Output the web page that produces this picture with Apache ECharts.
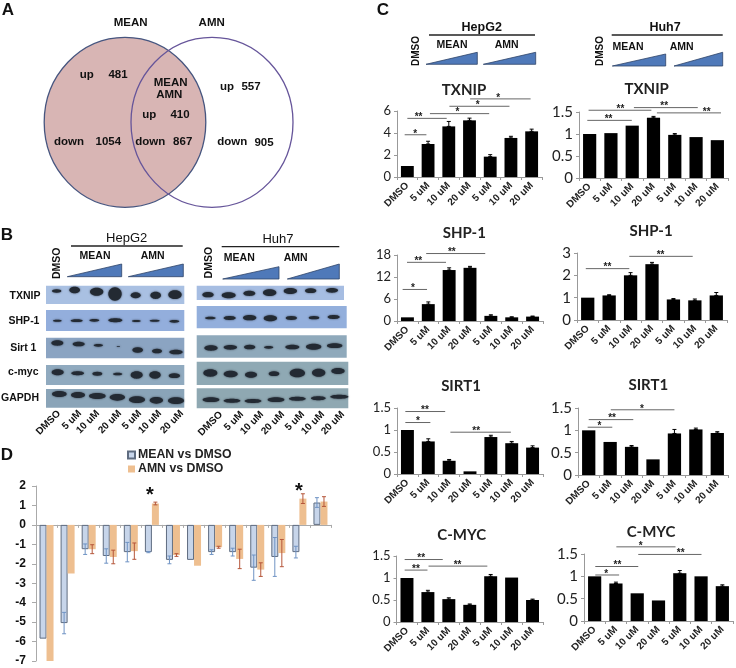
<!DOCTYPE html>
<html><head><meta charset="utf-8">
<style>html,body{margin:0;padding:0;background:#fff}#c{width:736px;height:668px}</style>
<script src="https://cdn.jsdelivr.net/npm/echarts@6/dist/echarts.min.js"></script>
</head><body><div id="c"></div>
<script>
// ---------- data ----------
const doseLabels = ['DMSO','5 uM','10 uM','20 uM','5 uM','10 uM','20 uM'];
const txnipHepG2 = [1,3.0,4.6,5.15,1.85,3.55,4.15];
const txnipHepG2Err = [0,.25,.45,.2,.18,.15,.2];
const txnipHuh7 = [1,1.02,1.19,1.37,.98,.93,.86];
const txnipHuh7Err = [0,.01,.01,.03,.03,.01,.01];
const shpHepG2 = [1,4.6,13.9,14.5,1.4,1.0,1.2];
const shpHepG2Err = [0,.6,.6,.4,.3,.15,.15];
const shpHuh7 = [1,1.1,2.0,2.5,.92,.88,1.1];
const shpHuh7Err = [0,.03,.12,.08,.04,.06,.13];
const sirtHepG2 = [1,.74,.3,.06,.84,.7,.6];
const sirtHepG2Err = [0,.06,.03,.01,.04,.04,.04];
const sirtHuh7 = [1,.74,.63,.35,.93,1.02,.94];
const sirtHuh7Err = [0,.01,.03,.01,.09,.03,.03];
const mycHepG2 = [1,.68,.52,.39,1.04,1.01,.5];
const mycHepG2Err = [0,.04,.03,.02,.04,.01,.02];
const mycHuh7 = [1,.84,.62,.46,1.07,1.0,.78];
const mycHuh7Err = [0,.03,.01,.01,.06,.01,.03];
// significance brackets: [from, to, level, labelAt, text]
const txnipHepG2Sig = [[-.13,.92,3.84,.38,'*'],[0,1.9,5.33,.54,'**'],[1.09,3.95,5.76,2.42,'*'],[2.03,4.93,6.43,3.4,'*'],[3.03,5.95,7.1,4.38,'*']];
const txnipHuh7Sig = [[-.11,1.98,1.31,.89,'**'],[-.05,2.9,1.54,1.45,'**'],[2.08,5.08,1.6,3.5,'**'],[3.16,6.17,1.48,5.5,'**']];
const shpHepG2Sig = [[-.23,.94,8.6,.27,'*'],[-.02,1.85,16,.52,'**'],[.9,3.73,18.4,2.13,'**']];
const shpHuh7Sig = [[-.09,1.94,2.3,.92,'**'],[1.94,4.9,2.85,3.4,'**']];
const sirtHepG2Sig = [[-.1,1.81,1.42,.84,'**'],[-.1,1.1,1.17,.5,'*'],[2.06,4.96,.95,3.3,'**']];
const sirtHuh7Sig = [[-.05,1.1,1.07,.5,'*'],[0,2.08,1.24,1.09,'**'],[1.03,4,1.46,2.48,'*']];
const mycHepG2Sig = [[-.11,1.71,1.42,.68,'**'],[-.11,.98,1.18,.43,'**'],[1.03,3.84,1.27,2.42,'**']];
const mycHuh7Sig = [[.03,1.15,1.03,.54,'*'],[.03,2.05,1.22,1.07,'**'],[1.02,3.8,1.66,2.16,'*'],[2.05,5.02,1.49,4.04,'**']];

const geneNames = ['MYC','NFKBIA','MAX','RELA','GSK3B','HIF1A','UBC','AXIN1','SP1','CCND1','CREB1','SKP2','FBXW7','TP53'];
const meanVsDmso = [-5.85,-5.05,-1.25,-1.6,-1.4,-1.4,-1.8,-1.8,-1.4,-1.4,-2.2,-1.65,-1.4,1.15];
const meanVsDmsoErr = [0,.55,.27,.37,.5,.03,.2,0,.12,.2,.65,1.0,.3,.25];
const amnVsDmso = [-7,-2.5,-1.25,-1.65,-1.35,1.1,-1.55,-2.1,-1.15,-1.75,-2.3,-1.45,1.35,1.2];
const amnVsDmsoErr = [0,0,.23,.35,.42,.07,.07,0,.05,.5,.35,.7,.25,.25];

const vennCounts = {meanUp:'481',meanDown:'1054',bothUp:'410',bothDown:'867',amnUp:'557',amnDown:'905'};

// ---------- layout tables ----------
const panels = [
 {t:'TXNIP',tx:459,ty:85,v:txnipHepG2,e:txnipHepG2Err,s:txnipHepG2Sig,l:397,r:542,top:111,b:177,max:6,iv:2,fs:13},
 {t:'TXNIP',tx:641.7,ty:84,v:txnipHuh7,e:txnipHuh7Err,s:txnipHuh7Sig,l:579,r:728,top:112,b:178,max:1.5,iv:.5,fs:15},
 {t:'SHP-1',tx:459.3,ty:228.3,v:shpHepG2,e:shpHepG2Err,s:shpHepG2Sig,l:397,r:543,top:255,b:321,max:18,iv:6,fs:13},
 {t:'SHP-1',tx:646,ty:226,v:shpHuh7,e:shpHuh7Err,s:shpHuh7Sig,l:577,r:727,top:253,b:320,max:3,iv:1,fs:15},
 {t:'SIRT1',tx:456,ty:381,v:sirtHepG2,e:sirtHepG2Err,s:sirtHepG2Sig,l:397,r:543,top:408,b:474,max:1.5,iv:.5,fs:13},
 {t:'SIRT1',tx:643.3,ty:380.3,v:sirtHuh7,e:sirtHuh7Err,s:sirtHuh7Sig,l:578,r:728,top:408,b:475,max:1.5,iv:.5,fs:15},
 {t:'C-MYC',tx:456.7,ty:530,v:mycHepG2,e:mycHepG2Err,s:mycHepG2Sig,l:396.5,r:543,top:556,b:622,max:1.5,iv:.5,fs:13},
 {t:'C-MYC',tx:646,ty:526.7,v:mycHuh7,e:mycHuh7Err,s:mycHuh7Sig,l:584,r:733,top:554,b:621,max:1.5,iv:.5,fs:15}
];
const sans='"Liberation Sans",Arial,sans-serif';
const grid=[],xAxis=[],yAxis=[],series=[],title=[],graphic=[];

function errSeries(i,lo,hi,color,off){
  return {type:'custom',xAxisIndex:i,yAxisIndex:i,silent:true,z:4,
    data:lo.map((d,k)=>[k,lo[k],hi[k]]),encode:{x:0,y:[1,2]},
    renderItem(p,api){
      const k=api.value(0),a=api.coord([k,api.value(1)]),b=api.coord([k,api.value(2)]);
      if(Math.abs(a[1]-b[1])<.5)return;
      const band=api.size([1,0])[0],x=a[0]+off*band,c=2,st={stroke:color,lineWidth:1};
      return {type:'group',children:[
        {type:'line',shape:{x1:x,y1:a[1],x2:x,y2:b[1]},style:st},
        {type:'line',shape:{x1:x-c,y1:a[1],x2:x+c,y2:a[1]},style:st},
        {type:'line',shape:{x1:x-c,y1:b[1],x2:x+c,y2:b[1]},style:st}]};
    }};
}
function sigSeries(i,sig){
  return {type:'custom',xAxisIndex:i,yAxisIndex:i,silent:true,z:5,clip:false,
    data:sig.map(b=>[0,b[2]]),encode:{x:0,y:1},
    renderItem(p,api){
      const b=sig[p.dataIndex],o=api.coord([0,b[2]]),band=api.size([1,0])[0];
      return {type:'group',children:[
        {type:'line',shape:{x1:o[0]+b[0]*band,y1:o[1],x2:o[0]+b[1]*band,y2:o[1]},style:{stroke:'#666',lineWidth:1}},
        {type:'text',x:o[0]+b[3]*band,y:o[1]-1,style:{text:b[4],font:'bold 10px '+sans,fill:'#222',align:'center',verticalAlign:'middle',textAlign:'center',textVerticalAlign:'middle'}}]};
    }};
}
panels.forEach((p,i)=>{
  grid.push({left:p.l,width:p.r-p.l,top:p.top,height:p.b-p.top,outerBoundsMode:'none'});
  xAxis.push({gridIndex:i,type:'category',data:doseLabels,
    axisLine:{lineStyle:{color:'#999',width:1}},axisTick:{show:true,length:3,lineStyle:{color:'#999'}},
    axisLabel:{interval:0,rotate:45,margin:7,fontFamily:sans,fontWeight:'bold',fontSize:10,color:'#222'}});
  yAxis.push({gridIndex:i,type:'value',min:0,max:p.max,interval:p.iv,splitLine:{show:false},
    axisLine:{show:true,lineStyle:{color:'#999',width:1}},axisTick:{show:true,length:3,lineStyle:{color:'#999'}},
    axisLabel:{margin:6,fontFamily:'Lato,sans-serif',fontSize:p.fs,color:'#222'}});
  series.push({type:'bar',xAxisIndex:i,yAxisIndex:i,data:p.v,barWidth:'62%',itemStyle:{color:'#000'},silent:true});
  series.push(errSeries(i,p.v,p.v.map((v,k)=>v+p.e[k]),'#000',0));
  series.push(sigSeries(i,p.s));
  title.push({text:p.t,left:p.tx,top:p.ty,textAlign:'center',textVerticalAlign:'middle',
    textStyle:{fontFamily:'Lato,sans-serif',fontWeight:'bold',fontSize:15,color:'#222'}});
});
// Panel D
const D=panels.length;
grid.push({left:36,width:295,top:486,height:175,outerBoundsMode:'none'});
xAxis.push({gridIndex:D,type:'category',data:geneNames,axisLine:{onZero:true,lineStyle:{color:'#aaa',width:1}},
  axisTick:{show:true,length:3,lineStyle:{color:'#aaa'}},
  axisLabel:{interval:0,rotate:90,margin:40,fontFamily:sans,fontSize:12,color:'#222'}});
yAxis.push({gridIndex:D,type:'value',min:-7,max:2,interval:1,splitLine:{show:false},
  axisLine:{show:true,lineStyle:{color:'#aaa',width:1}},axisTick:{show:true,length:4,lineStyle:{color:'#aaa'}},
  axisLabel:{margin:10,fontFamily:sans,fontWeight:'bold',fontSize:12,color:'#111'}});
series.push({type:'bar',name:'MEAN vs DMSO',xAxisIndex:D,yAxisIndex:D,data:meanVsDmso,barWidth:7,barGap:0,silent:true,
  itemStyle:{color:'#c7d5ea',borderColor:'#5f6c80',borderWidth:1}});
series.push({type:'bar',name:'AMN vs DMSO',xAxisIndex:D,yAxisIndex:D,data:amnVsDmso,barWidth:7,barGap:0,silent:true,
  itemStyle:{color:'#eebf90'}});
series.push(errSeries(D,meanVsDmso.map((v,k)=>v-meanVsDmsoErr[k]),meanVsDmso.map((v,k)=>v+meanVsDmsoErr[k]),'#6f93c4',-1/6));
series.push(errSeries(D,amnVsDmso.map((v,k)=>v-amnVsDmsoErr[k]),amnVsDmso.map((v,k)=>v+amnVsDmsoErr[k]),'#b5563a',1/6));

// ---------- decoration helpers ----------
function txt(s,x,y,size,weight,rot,align){
  graphic.push({type:'text',x:x,y:y,rotation:rot||0,z:20,silent:true,style:{text:s,font:(weight||'bold')+' '+size+'px '+sans,fill:'#111',
    align:align||'center',verticalAlign:'middle',textAlign:align||'center',textVerticalAlign:'middle'}});
}
function rule(x1,x2,y){graphic.push({type:'line',silent:true,z:20,shape:{x1:x1,y1:y,x2:x2,y2:y},style:{stroke:'#222',lineWidth:1.3}});}
function wedge(x1,x2,yb,yt){graphic.push({type:'polygon',silent:true,z:20,shape:{points:[[x1,yb],[x2,yb],[x2,yt]]},style:{fill:'#4f79b9',stroke:'#2f4468',lineWidth:.8}});}
function rect(x,y,w,h,c){graphic.push({type:'rect',silent:true,z:10,shape:{x:x,y:y,width:w,height:h},style:{fill:c}});}

// Panel letters
txt('A',8,10,17);txt('B',7,235,17);txt('C',383,10,17);txt('D',7,455,17);

// Venn
graphic.push({type:'ellipse',silent:true,z:10,shape:{cx:125,cy:122.3,rx:80.8,ry:85},style:{fill:'#d8b5b4',stroke:'#46557f',lineWidth:1.3}});
graphic.push({type:'ellipse',silent:true,z:11,shape:{cx:212,cy:122.3,rx:81,ry:85},style:{fill:'none',stroke:'#66559a',lineWidth:1.3}});
[['MEAN',130.7,23],['AMN',211.7,23],['up',86.7,75],[vennCounts.meanUp,118,75],['MEAN',170.7,83],['AMN',169.3,95],
 ['up',149.3,114.7],[vennCounts.bothUp,180,114.7],['down',69,142],[vennCounts.meanDown,108.3,142],['down',150.3,142],
 [vennCounts.bothDown,182.7,142],['up',227,87],[vennCounts.amnUp,251,87],['down',232.3,142],[vennCounts.amnDown,264,143]
].forEach(a=>txt(a[0],a[1],a[2],11.5));

// Panel C headers
txt('HepG2',481.7,27.7,12.5,'bold');rule(429,535,35);txt('DMSO',416.7,51,10,'bold',Math.PI/2);
txt('MEAN',452,45,10.5);txt('AMN',506.7,45,10.5);wedge(426,477.3,64.3,52.3);wedge(483.3,535.7,64.3,52.3);
txt('Huh7',665,28,12.5,'bold');rule(611.7,722.7,35);txt('DMSO',600,51,10,'bold',Math.PI/2);
txt('MEAN',628,46.7,10.5);txt('AMN',681.7,47,10.5);wedge(612.3,665.7,66,54);wedge(674,722.7,66,52.3);

// Panel B headers
txt('HepG2',126.7,238.3,13,'normal');rule(71,182.7,246);txt('DMSO',56.7,263.3,10.5,'bold',Math.PI/2);
txt('MEAN',95,256,10.5);txt('AMN',152.7,256,10.5);wedge(67.3,121.7,276.7,264);wedge(128.3,183.3,276.7,264);
txt('Huh7',278,239,13,'normal');rule(221.7,339.3,246.7);txt('DMSO',209,262.7,10.5,'bold',Math.PI/2);
txt('MEAN',239.3,257.7,10.5);txt('AMN',295.7,258.3,10.5);wedge(222.7,279,279,266.7);wedge(287.3,339.3,279,264);
[['TXNIP',25,296],['SHP-1',24,321],['Sirt 1',23.3,348.3],['c-myc',23.3,371.7],['GAPDH',20,397.7]].forEach(a=>txt(a[0],a[1],a[2],10.5));

// Blot strips
[[46,285.7,138.3,18.3,'#a9c0e2'],[46,310,138.3,21,'#93aedc'],[46,337.7,138.3,20.6,'#8ba4c2'],[46,365,138.3,20,'#90aabf'],[46,389,138.3,18.7,'#8aa4b8'],
 [196.7,285.7,147.3,14.3,'#a6bde2'],[196.7,306,150,22.3,'#93afdc'],[196.7,335.3,150,22.4,'#8fa9bb'],[196.7,361.7,151.6,23.3,'#8fa9b4'],[196.7,388.3,151.6,20,'#8fa8b2']
].forEach(a=>rect(a[0],a[1],a[2],a[3],a[4]));

const bandsLeft=[[50,33,14,5],[104,30,16,10],[170,35,20,12],[225,42,20,20],[287,46,15,9],[347,46,16,11],[405,44,20,13],
[52,122,13,3],[110,122,18,4],[163,121,15,4],[226,121,21,6],[289,123,13,3],[344,122,15,3],[403,124,15,4],
[52,189,18,8],[116,192,18,7],[175,196,14,4],[235,200,5,1],[293,210,16,8],[351,213,15,7],[408,216,20,7],
[53,277,18,9],[113,280,19,6],[172,281,15,6],[233,282,14,4],[290,285,18,11],[345,285,17,11],[403,287,17,7],
[58,342,22,9],[114,345,21,9],[172,348,25,9],[232,352,23,10],[291,359,24,10],[349,361,20,10],[408,362,24,10]];
const bandsRight=[[48,44,17,8],[110,46,21,9],[172,40,18,8],[233,38,20,10],[295,33,20,9],[356,32,17,7],[420,31,18,7],
[55,114,16,4],[113,114,18,6],[173,113,20,8],[235,115,20,9],[298,114,17,6],[366,113,16,5],[425,111,18,6],
[57,204,20,8],[115,202,20,7],[173,201,17,7],[230,202,14,4],[301,201,21,7],[365,200,23,9],[428,197,23,7],
[55,279,21,11],[116,282,21,10],[177,284,18,9],[246,281,16,7],[316,279,23,13],[380,278,20,12],[438,273,20,9],
[57,359,25,7],[120,362,25,6],[183,363,25,6],[252,359,25,7],[316,356,25,6],[379,355,22,6],[442,350,27,6]];
function bands(list,ox,oy){list.forEach(b=>graphic.push({type:'ellipse',silent:true,z:12,
  shape:{cx:ox+b[0]/3,cy:oy+b[1]/3,rx:b[2]/3,ry:b[3]/3},style:{fill:'#232a33',shadowBlur:2,shadowColor:'rgba(30,35,45,.8)'}}));}
bands(bandsLeft,40,280);bands(bandsRight,192,280);

// Blot dose labels
[59,80,98,120,140,160,182].forEach((x,i)=>txt(doseLabels[i],x,412,10,'bold',Math.PI/4,'right'));
[221,242,262,283,303,323,343].forEach((x,i)=>txt(doseLabels[i],x,413,10,'bold',Math.PI/4,'right'));

// Panel D stars
txt('*',150,495,20,'bold');txt('*',299,491,20,'bold');

echarts.init(document.getElementById('c'),null,{renderer:'canvas'}).setOption({
  animation:false,backgroundColor:'#fff',title,grid,xAxis,yAxis,series,
  legend:{left:127,top:449,padding:0,orient:'vertical',itemWidth:7,itemHeight:7,itemGap:2,icon:'rect',
    data:['MEAN vs DMSO','AMN vs DMSO'],textStyle:{fontFamily:sans,fontWeight:'bold',fontSize:12.3,color:'#222',padding:[0,0,0,-2]}},
  graphic:{elements:graphic}
});
</script></body></html>
